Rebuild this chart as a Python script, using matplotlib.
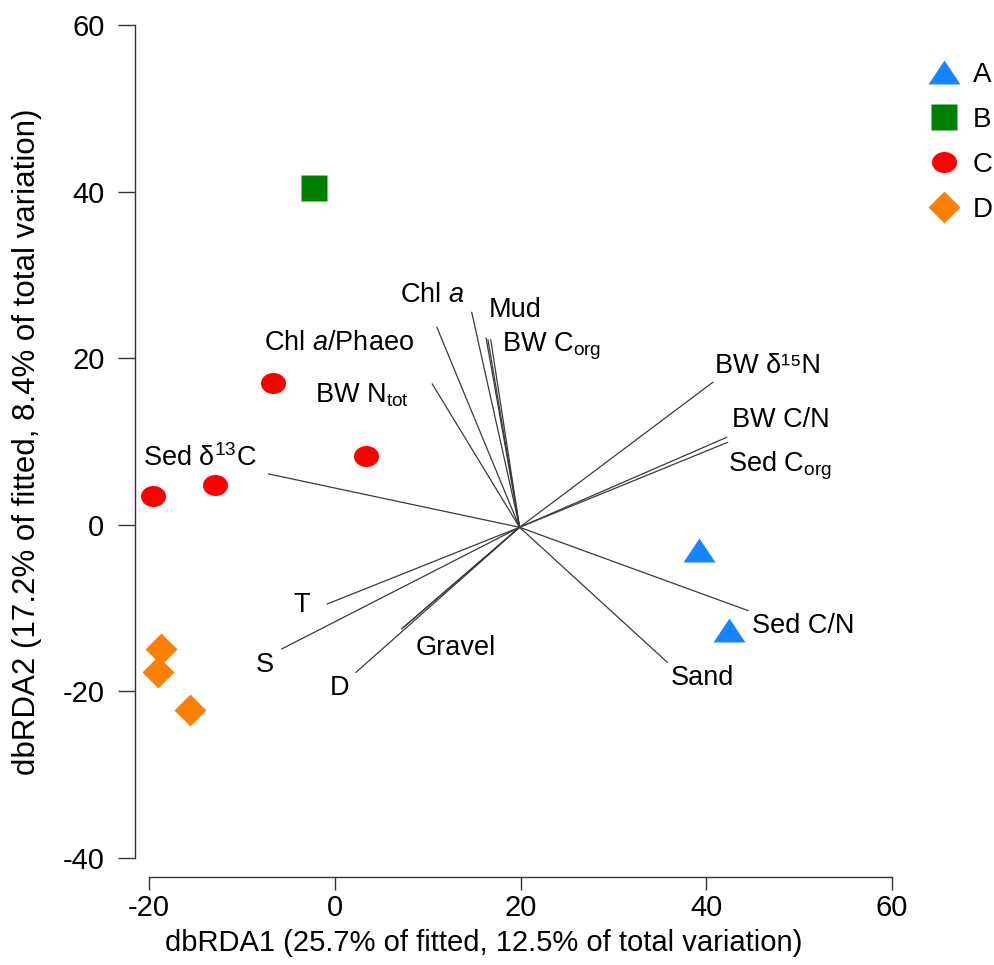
import numpy as np
import matplotlib
matplotlib.use("Agg")
import matplotlib.pyplot as plt

plt.rcParams["font.family"] = ["Liberation Sans", "DejaVu Sans"]
plt.rcParams["mathtext.fontset"] = "custom"
plt.rcParams["mathtext.rm"] = "Liberation Sans"
plt.rcParams["mathtext.it"] = "Liberation Sans:italic"
plt.rcParams["axes.unicode_minus"] = False

# site scores per group
a_x = [39.2, 42.5]
a_y = [-3.0, -12.6]
b_x = [-2.2]
b_y = [40.4]
c_x = [-6.7, 3.4, -12.9, -19.6]
c_y = [17.0, 8.3, 4.8, 3.5]
d_x = [-18.7, -19.0, -15.6]
d_y = [-14.9, -17.7, -22.2]

# vector origin and endpoints
origin = (19.9, -0.3)
vec_x = [11.0, 14.75, 16.3, 16.5, 16.8, 10.5, -7.1, 40.7, 42.2, 42.3,
         44.5, 35.8, -0.8, -5.7, 2.3, 7.2, 7.4]
vec_y = [23.7, 25.5, 22.4, 22.2, 22.2, 16.9, 6.1, 17.1, 10.5, 9.9,
         -10.3, -16.5, -9.5, -14.9, -17.7, -12.5, -12.3]

# vector labels
lab_text = ["Chl $a$", "Mud", r"BW C$_{\mathrm{org}}$", "Chl $a$/Phaeo",
            r"BW N$_{\mathrm{tot}}$", r"Sed δ$^{13}$C", "BW δ¹⁵N", "BW C/N",
            r"Sed C$_{\mathrm{org}}$", "Sed C/N", "Sand", "T", "S", "D", "Gravel"]
lab_x = [10.5, 19.4, 23.3, 0.5, 2.9, -14.5, 46.6, 48.0, 47.9, 50.4, 39.6,
         -3.6, -7.5, 0.5, 13.0]
lab_y = [27.6, 25.8, 21.4, 21.8, 15.5, 8.0, 19.1, 12.6, 7.1, -12.2, -18.4,
         -9.6, -16.8, -19.6, -14.8]

groups = ["A", "B", "C", "D"]
colors = ["#1585FF", "#008000", "#FF0000", "#FF8000"]

tri = [(-1, -0.75), (1, -0.75), (0, 0.75)]
t = np.linspace(0, 2 * np.pi, 60)
ell = list(zip(np.cos(t), 0.84 * np.sin(t)))
dia = [(1, 0), (0, 1), (-1, 0), (0, -1)]

W, H = 994, 965
fig = plt.figure(figsize=(W / 100, H / 100), dpi=100)
# pixel mapping: x=-20 -> 149, 60 -> 892 ; y=60 -> 25, -40 -> 858
px_per_x = (892 - 149) / 80
px_per_y = (858 - 25) / 100
left_px, bottom_px = 135, 877
x0 = -20 - (149 - left_px) / px_per_x
y0 = -40 - (bottom_px - 858) / px_per_y
x1, y1 = 61.54, 62.26
ax_w = (x1 - x0) * px_per_x
ax_h = (y1 - y0) * px_per_y
ax = fig.add_axes([left_px / W, 1 - bottom_px / H, ax_w / W, ax_h / H])
ax.set_xlim(x0, x1)
ax.set_ylim(y0, y1)

for ex, ey in zip(vec_x, vec_y):
    ax.plot([origin[0], ex], [origin[1], ey], color="#3a3a3a", lw=0.9, zorder=1)

fs = 19.5
for s, lx, ly in zip(lab_text, lab_x, lab_y):
    ax.text(lx, ly, s, fontsize=fs, ha="center", va="center", zorder=3)

ax.plot(a_x, a_y, ls="none", marker=tri, ms=23, color=colors[0], mec="none", label=groups[0])
ax.plot(b_x, b_y, ls="none", marker="s", ms=18.5, color=colors[1], mec="none", label=groups[1])
ax.plot(c_x, c_y, ls="none", marker=ell, ms=18, color=colors[2], mec="none", label=groups[2])
ax.plot(d_x, d_y, ls="none", marker=dia, ms=23, color=colors[3], mec="none", label=groups[3])

for side in ["top", "right"]:
    ax.spines[side].set_visible(False)
ax.spines["left"].set_bounds(-40, 60)
ax.spines["bottom"].set_bounds(-20, 60)
for side in ["left", "bottom"]:
    ax.spines[side].set_color("#333333")
    ax.spines[side].set_linewidth(1.0)
ax.set_xticks([-20, 0, 20, 40, 60])
ax.set_yticks([-40, -20, 0, 20, 40, 60])
ax.tick_params(axis="x", length=9, width=1.0, color="#333333", labelsize=21, pad=3)
ax.tick_params(axis="y", length=12, width=1.0, color="#333333", labelsize=21, pad=10)

fig.text(484 / W, 1 - 943 / H, "dbRDA1 (25.7% of fitted, 12.5% of total variation)",
         fontsize=21, ha="center", va="center")
fig.text(27 / W, 1 - 442 / H, "dbRDA2 (17.2% of fitted, 8.4% of total variation)",
         fontsize=22.5, ha="center", va="center", rotation=90)

leg = fig.legend(loc="upper left", bbox_to_anchor=(930 / W, 1 - 62 / H), frameon=False,
                 fontsize=20, labelspacing=0.68, handletextpad=0.55, handlelength=1.0,
                 borderaxespad=0, borderpad=0)

fig.savefig("out.png", dpi=100)
